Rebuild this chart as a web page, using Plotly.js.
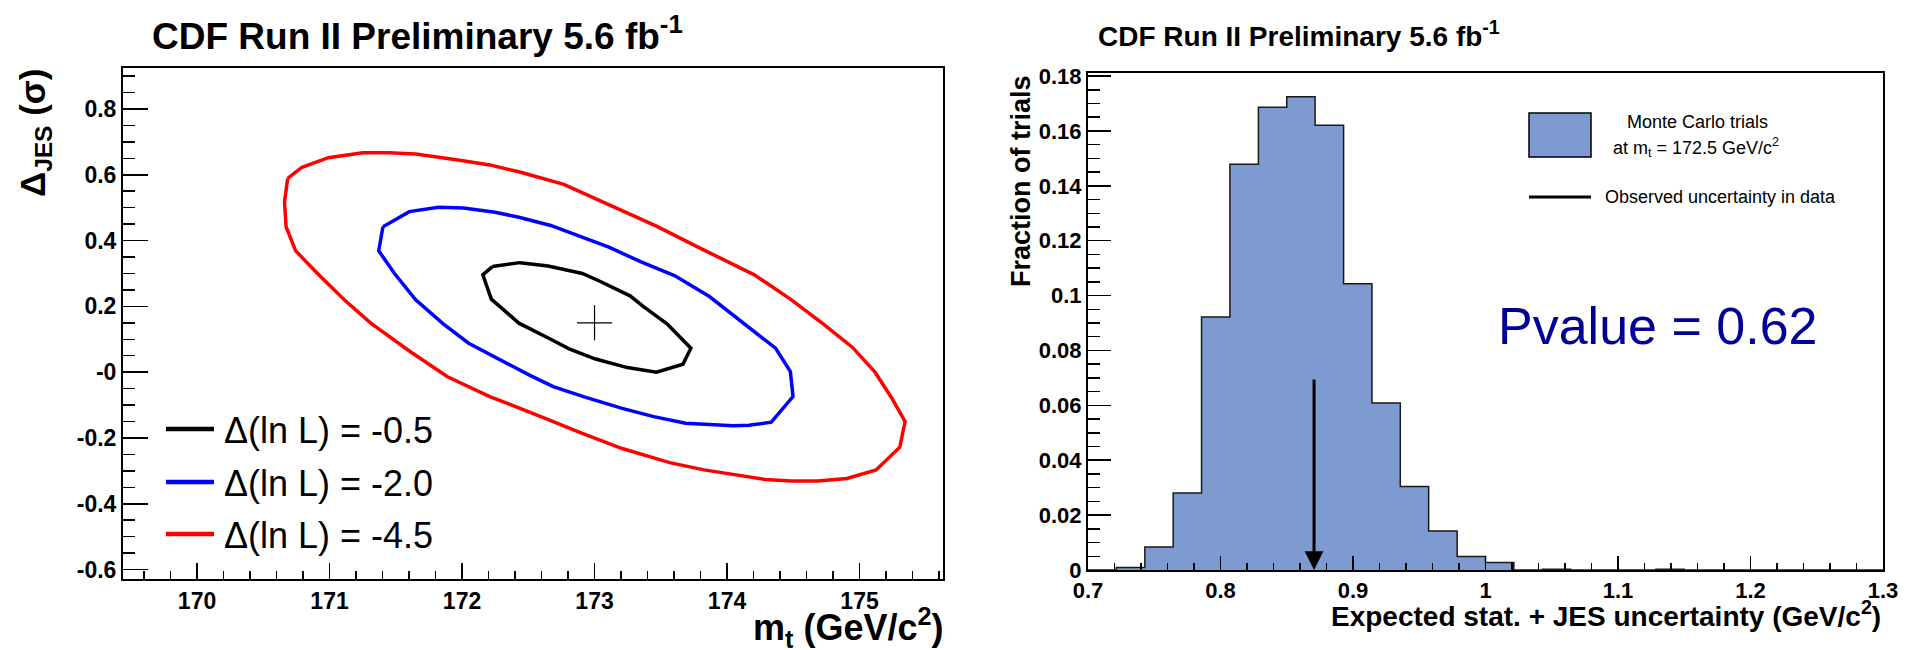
<!DOCTYPE html>
<html>
<head>
<meta charset="utf-8">
<script src="https://cdn.plot.ly/plotly-3.0.1.min.js"></script>
<style>
html, body { margin: 0; padding: 0; background: #ffffff; }
#chart { width: 1917px; height: 650px; }
</style>
</head>
<body>
<div id="chart"></div>
<script>
// ---------------- Left panel: likelihood contours (m_t vs Delta_JES) ----------------
const contour05Mt  = [172.229, 172.437, 172.649, 172.908, 173.048, 173.268, 173.367, 173.547, 173.727, 173.667, 173.467, 173.248, 173.008, 172.808, 172.669, 172.429, 172.221, 172.157, 172.229];
const contour05Jes = [0.321, 0.333, 0.323, 0.300, 0.275, 0.232, 0.200, 0.147, 0.073, 0.024, 0.000, 0.014, 0.040, 0.071, 0.100, 0.149, 0.222, 0.296, 0.321];

const contour20Mt  = [171.403, 171.602, 171.822, 172.010, 172.249, 172.429, 172.669, 172.888, 173.108, 173.347, 173.607, 173.867, 174.106, 174.366, 174.478, 174.498, 174.334, 174.166, 174.046, 173.687, 173.447, 173.208, 172.928, 172.688, 172.509, 172.289, 172.050, 171.858, 171.650, 171.490, 171.371, 171.403];
const contour20Jes = [0.442, 0.488, 0.501, 0.499, 0.486, 0.471, 0.446, 0.414, 0.380, 0.336, 0.293, 0.230, 0.154, 0.073, 0.002, -0.074, -0.152, -0.161, -0.163, -0.155, -0.135, -0.110, -0.076, -0.044, -0.009, 0.037, 0.088, 0.147, 0.220, 0.300, 0.369, 0.442];

const contour45Mt  = [170.684, 170.792, 170.991, 171.251, 171.450, 171.650, 171.970, 172.209, 172.449, 172.768, 173.048, 173.467, 173.807, 174.206, 174.486, 174.725, 174.945, 175.117, 175.244, 175.344, 175.304, 175.125, 174.905, 174.685, 174.486, 174.286, 173.827, 173.567, 173.208, 172.888, 172.609, 172.209, 171.890, 171.610, 171.311, 171.111, 170.911, 170.744, 170.672, 170.660, 170.684];
const contour45Jes = [0.589, 0.623, 0.652, 0.667, 0.667, 0.663, 0.645, 0.630, 0.607, 0.571, 0.520, 0.444, 0.375, 0.296, 0.220, 0.147, 0.076, 0.000, -0.079, -0.150, -0.228, -0.297, -0.323, -0.331, -0.331, -0.326, -0.297, -0.275, -0.232, -0.183, -0.137, -0.074, -0.014, 0.062, 0.149, 0.220, 0.299, 0.369, 0.442, 0.518, 0.589];

const bestFitMt  = [173.0];
const bestFitJes = [0.150];

const contourLabels = ['\u0394(ln L) = -0.5', '\u0394(ln L) = -2.0', '\u0394(ln L) = -4.5'];
const contourColors = ['#000000', '#0000ff', '#ff0000'];

const leftXTicks     = [170, 171, 172, 173, 174, 175];
const leftYTicks     = [-0.6, -0.4, -0.2, 0, 0.2, 0.4, 0.6, 0.8];
const leftYTickText  = ['-0.6', '-0.4', '-0.2', '-0', '0.2', '0.4', '0.6', '0.8'];

// ---------------- Right panel: pseudo-experiment histogram ----------------
const binWidth = 0.021429;
const binLowEdges = [0.7000, 0.7214, 0.7429, 0.7643, 0.7857, 0.8071, 0.8286, 0.8500, 0.8714, 0.8929,
                     0.9143, 0.9357, 0.9571, 0.9786, 1.0000, 1.0214, 1.0429, 1.0643, 1.0857, 1.1071,
                     1.1286, 1.1500, 1.1714, 1.1929, 1.2143, 1.2357, 1.2571, 1.2786];
const trialFractions = [0.0000, 0.0009, 0.0084, 0.0281, 0.0922, 0.1479, 0.1686, 0.1725, 0.1621, 0.1043,
                        0.0609, 0.0304, 0.0142, 0.0049, 0.0027, 0.0000, 0.0003, 0.0000, 0.0000, 0.0000,
                        0.0003, 0.0000, 0.0000, 0.0000, 0.0000, 0.0000, 0.0000, 0.0000];
const observedUncertainty = 0.8706;
const arrowTopFraction = 0.070;
const pValueText = 'Pvalue = 0.62';

const rightXTicks    = [0.7, 0.8, 0.9, 1.0, 1.1, 1.2, 1.3];
const rightXTickText = ['0.7', '0.8', '0.9', '1', '1.1', '1.2', '1.3'];
const rightYTicks    = [0, 0.02, 0.04, 0.06, 0.08, 0.10, 0.12, 0.14, 0.16, 0.18];
const rightYTickText = ['0', '0.02', '0.04', '0.06', '0.08', '0.1', '0.12', '0.14', '0.16', '0.18'];

// ---------------- Styling helpers ----------------
const W = 1917, H = 650;
const FONT = 'Liberation Sans, Arial, Helvetica, sans-serif';
const HIST_COLOR = '#7d9ad1';
const px = v => v / W;
const py = v => 1 - v / H;

const binCenters = binLowEdges.map(e => e + binWidth / 2);
const outlineX = binLowEdges.concat([binLowEdges[binLowEdges.length - 1] + binWidth]);
const outlineY = trialFractions.concat([trialFractions[trialFractions.length - 1]]);

const traces = [
  { x: contour45Mt, y: contour45Jes, xaxis: 'x', yaxis: 'y', mode: 'lines', name: contourLabels[2],
    line: { color: contourColors[2], width: 3.5 } },
  { x: contour20Mt, y: contour20Jes, xaxis: 'x', yaxis: 'y', mode: 'lines', name: contourLabels[1],
    line: { color: contourColors[1], width: 3.5 } },
  { x: contour05Mt, y: contour05Jes, xaxis: 'x', yaxis: 'y', mode: 'lines', name: contourLabels[0],
    line: { color: contourColors[0], width: 3.5 } },
  { x: bestFitMt, y: bestFitJes, xaxis: 'x', yaxis: 'y', mode: 'markers', name: 'best fit',
    marker: { symbol: 'cross-thin', size: 25, color: '#000', line: { color: '#000', width: 1.2 } } },
  { type: 'bar', x: binCenters, y: trialFractions, width: binWidth, xaxis: 'x2', yaxis: 'y2',
    name: 'Monte Carlo trials', marker: { color: HIST_COLOR, line: { width: 0 } } },
  { x: outlineX, y: outlineY, xaxis: 'x2', yaxis: 'y2', mode: 'lines', name: 'outline',
    line: { shape: 'hv', color: '#1a1a1a', width: 1.5 } }
];

function axisBase(extra) {
  return Object.assign({
    showgrid: false, zeroline: false, showline: true, linecolor: '#000', linewidth: 2,
    mirror: true, ticks: 'inside', tickcolor: '#000', tickwidth: 1.5, tickmode: 'array',
    fixedrange: true
  }, extra);
}

const tickFontL = { family: FONT, size: 23, color: '#000', weight: 'bold' };
const tickFontR = { family: FONT, size: 22, color: '#000', weight: 'bold' };

const layout = {
  width: W, height: H,
  margin: { l: 0, r: 0, t: 0, b: 0, pad: 0, autoexpand: false },
  paper_bgcolor: '#ffffff', plot_bgcolor: '#ffffff',
  showlegend: false, hovermode: false, bargap: 0,
  xaxis: axisBase({ domain: [px(123), px(943)], range: [169.441, 175.63], anchor: 'y',
    tickvals: leftXTicks, ticktext: leftXTicks.map(String), ticklen: 16, tickfont: tickFontL,
    minor: { tickmode: 'linear', tick0: 170, dtick: 0.2, ticks: 'inside', ticklen: 8, tickwidth: 1.5, tickcolor: '#000' } }),
  yaxis: axisBase({ domain: [py(579), py(68)], range: [-0.6286, 0.9246], anchor: 'x',
    tickvals: leftYTicks, ticktext: leftYTickText, ticklen: 25, tickfont: tickFontL,
    minor: { tickmode: 'linear', tick0: 0, dtick: 0.05, ticks: 'inside', ticklen: 12, tickwidth: 1.5, tickcolor: '#000' } }),
  xaxis2: axisBase({ domain: [px(1088), px(1883)], range: [0.7, 1.3], anchor: 'y2',
    tickvals: rightXTicks, ticktext: rightXTickText, ticklen: 14, tickfont: tickFontR,
    minor: { tickmode: 'linear', tick0: 0.7, dtick: 0.02, ticks: 'inside', ticklen: 7, tickwidth: 1.5, tickcolor: '#000' } }),
  yaxis2: axisBase({ domain: [py(570), py(73.3)], range: [0, 0.181], anchor: 'x2',
    tickvals: rightYTicks, ticktext: rightYTickText, ticklen: 23, tickfont: tickFontR,
    minor: { tickmode: 'linear', tick0: 0, dtick: 0.005, ticks: 'inside', ticklen: 12, tickwidth: 1.5, tickcolor: '#000' } }),
  shapes: [
    // left legend line samples
    { type: 'line', xref: 'paper', yref: 'paper', x0: px(166), x1: px(214), y0: py(429), y1: py(429), line: { color: contourColors[0], width: 4.5 } },
    { type: 'line', xref: 'paper', yref: 'paper', x0: px(166), x1: px(214), y0: py(482), y1: py(482), line: { color: contourColors[1], width: 4.5 } },
    { type: 'line', xref: 'paper', yref: 'paper', x0: px(166), x1: px(214), y0: py(534), y1: py(534), line: { color: contourColors[2], width: 4.5 } },
    // right legend box and line
    { type: 'rect', xref: 'paper', yref: 'paper', x0: px(1529), x1: px(1591), y0: py(157), y1: py(113), fillcolor: HIST_COLOR, line: { color: '#000', width: 1.5 } },
    { type: 'line', xref: 'paper', yref: 'paper', x0: px(1529), x1: px(1591), y0: py(197), y1: py(197), line: { color: '#000', width: 3 } }
  ],
  annotations: [
    { text: 'CDF Run II Preliminary 5.6 fb<sup>-1</sup>', xref: 'paper', yref: 'paper', x: px(150), y: py(34), xanchor: 'left', yanchor: 'middle', showarrow: false,
      font: { family: FONT, size: 37, color: '#000', weight: 'bold' } },
    { text: 'CDF Run II Preliminary 5.6 fb<sup>-1</sup>', xref: 'paper', yref: 'paper', x: px(1096), y: py(34), xanchor: 'left', yanchor: 'middle', showarrow: false,
      font: { family: FONT, size: 28, color: '#000', weight: 'bold' } },
    { text: 'm<sub>t</sub> (GeV/c<sup>2</sup>)', xref: 'paper', yref: 'paper', x: px(945), y: py(627), xanchor: 'right', yanchor: 'middle', showarrow: false,
      font: { family: FONT, size: 36, color: '#000', weight: 'bold' } },
    { text: '\u0394<sub>JES</sub> (\u03c3)', xref: 'paper', yref: 'paper', x: px(35), y: py(67), xanchor: 'center', yanchor: 'top', textangle: -90, showarrow: false,
      font: { family: FONT, size: 35, color: '#000', weight: 'bold' } },
    { text: 'Expected stat. + JES uncertainty (GeV/c<sup>2</sup>)', xref: 'paper', yref: 'paper', x: px(1883), y: py(614), xanchor: 'right', yanchor: 'middle', showarrow: false,
      font: { family: FONT, size: 28, color: '#000', weight: 'bold' } },
    { text: 'Fraction of trials', xref: 'paper', yref: 'paper', x: px(1021), y: py(73), xanchor: 'center', yanchor: 'top', textangle: -90, showarrow: false,
      font: { family: FONT, size: 27, color: '#000', weight: 'bold' } },
    { text: contourLabels[0], xref: 'paper', yref: 'paper', x: px(222), y: py(430), xanchor: 'left', yanchor: 'middle', showarrow: false,
      font: { family: FONT, size: 36, color: '#000' } },
    { text: contourLabels[1], xref: 'paper', yref: 'paper', x: px(222), y: py(483), xanchor: 'left', yanchor: 'middle', showarrow: false,
      font: { family: FONT, size: 36, color: '#000' } },
    { text: contourLabels[2], xref: 'paper', yref: 'paper', x: px(222), y: py(535), xanchor: 'left', yanchor: 'middle', showarrow: false,
      font: { family: FONT, size: 36, color: '#000' } },
    { text: pValueText, xref: 'paper', yref: 'paper', x: px(1496), y: py(326), xanchor: 'left', yanchor: 'middle', showarrow: false,
      font: { family: FONT, size: 52, color: '#000099' } },
    { text: 'Monte Carlo trials', xref: 'paper', yref: 'paper', x: px(1697), y: py(122), xanchor: 'center', yanchor: 'middle', showarrow: false,
      font: { family: FONT, size: 18, color: '#000' } },
    { text: 'at m<sub>t</sub> = 172.5 GeV/c<sup>2</sup>', xref: 'paper', yref: 'paper', x: px(1696), y: py(148), xanchor: 'center', yanchor: 'middle', showarrow: false,
      font: { family: FONT, size: 18, color: '#000' } },
    { text: 'Observed uncertainty in data', xref: 'paper', yref: 'paper', x: px(1603), y: py(197), xanchor: 'left', yanchor: 'middle', showarrow: false,
      font: { family: FONT, size: 18, color: '#000' } },
    { text: '', xref: 'x2', yref: 'y2', axref: 'x2', ayref: 'y2', x: observedUncertainty, y: 0,
      ax: observedUncertainty, ay: arrowTopFraction, showarrow: true, arrowhead: 2, arrowsize: 1.25,
      arrowwidth: 3, arrowcolor: '#000', standoff: 0 }
  ]
};

Plotly.newPlot('chart', traces, layout, { staticPlot: true, displayModeBar: false });
</script>
</body>
</html>
